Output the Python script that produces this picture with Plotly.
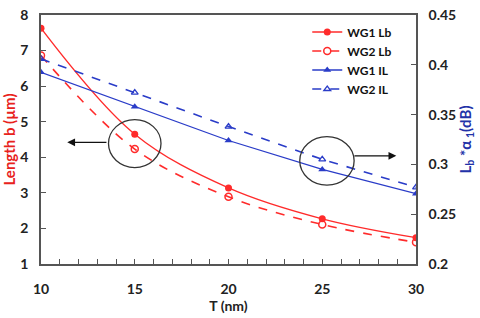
import plotly.graph_objects as go

T = [10, 15, 20, 25, 30]
wg1_lb = [7.63, 4.65, 3.14, 2.27, 1.74]
wg2_lb = [6.86, 4.23, 2.89, 2.11, 1.61]
wg1_il = [0.3925, 0.358, 0.324, 0.295, 0.2706]
wg2_il = [0.406, 0.372, 0.338, 0.305, 0.277]

left_ticks = [1, 2, 3, 4, 5, 6, 7, 8]
right_ticks = [0.2, 0.25, 0.3, 0.35, 0.4, 0.45]
right_labels = ["0.2", "0.25", "0.3", "0.35", "0.4", "0.45"]
x_ticks = [10, 15, 20, 25, 30]

RED = "#ff2b2b"
BLUE = "#2a3cc8"
FONT = "Lato"

fig = go.Figure()
fig.add_trace(go.Scatter(x=T, y=wg1_lb, name="WG1 Lb", mode="lines+markers",
                         line=dict(color=RED, width=1.3, shape="spline"),
                         marker=dict(symbol="circle", size=7, color=RED)))
fig.add_trace(go.Scatter(x=T, y=wg2_lb, name="WG2 Lb", mode="lines+markers",
                         line=dict(color=RED, width=1.6, dash="dash", shape="spline"),
                         marker=dict(symbol="circle-open", size=7, color=RED, line=dict(width=1.5))))
fig.add_trace(go.Scatter(x=T, y=wg1_il, name="WG1 IL", mode="lines+markers", yaxis="y2",
                         line=dict(color=BLUE, width=1.3),
                         marker=dict(symbol="triangle-up", size=7, color=BLUE)))
fig.add_trace(go.Scatter(x=T, y=wg2_il, name="WG2 IL", mode="lines+markers", yaxis="y2",
                         line=dict(color=BLUE, width=1.6, dash="dash"),
                         marker=dict(symbol="triangle-up-open", size=6, color=BLUE, line=dict(width=1.3))))

# decorations: circles and arrows (data coords on left axis)
circle_left = dict(x0=13.6, x1=16.4, y0=3.71, y1=5.06)
circle_right = dict(x0=23.8, x1=26.7, y0=3.22, y1=4.58)
for c in (circle_left, circle_right):
    fig.add_shape(type="circle", xref="x", yref="y", line=dict(color="#333333", width=1.3), **c)

fig.add_annotation(x=11.4, y=4.42, ax=13.57, ay=4.42, xref="x", yref="y", axref="x", ayref="y",
                   showarrow=True, arrowhead=2, arrowsize=1.2, arrowwidth=1.3, arrowcolor="#111111", text="")
fig.add_annotation(x=28.95, y=4.04, ax=26.64, ay=4.04, xref="x", yref="y", axref="x", ayref="y",
                   showarrow=True, arrowhead=2, arrowsize=1.2, arrowwidth=1.3, arrowcolor="#111111", text="")

axis_common = dict(showline=True, linecolor="#555555", linewidth=1.5, ticks="inside",
                   tickcolor="#555555", ticklen=5, tickwidth=1, showgrid=False, zeroline=False,
                   ticklabeloverflow="allow",
                   tickfont=dict(family=FONT, size=14, color="#222222", weight="bold"))

fig.update_layout(
    width=480, height=318,
    margin=dict(l=41, r=64, t=6, b=54),
    paper_bgcolor="white", plot_bgcolor="white",
    font=dict(family=FONT),
    xaxis=dict(range=[10, 30], tickvals=x_ticks, dtick=1, mirror=True,
               minor=dict(dtick=1, ticks="inside", ticklen=5, tickcolor="#555555"),
               title=dict(text="T (nm)", font=dict(family=FONT, size=14, color="#222222", weight="bold"), standoff=2),
               ticklabelstandoff=11,
               **axis_common),
    yaxis=dict(range=[1, 8], tickvals=left_ticks, mirror=False,
               title=dict(text="Length b (µm)", font=dict(family=FONT, size=15, color="#e8221c", weight="bold"), standoff=2),
               ticklabelstandoff=8,
               **axis_common),
    yaxis2=dict(range=[0.2, 0.45], tickvals=right_ticks, ticktext=right_labels, overlaying="y", side="right",
                title=dict(text="L<sub>b</sub> *α<sub> 1</sub>(dB)", font=dict(family=FONT, size=15, color="#2232a8", weight="bold"), standoff=2),
                ticklabelstandoff=8,
                **axis_common),
    legend=dict(x=0.71, y=0.99, xanchor="left", yanchor="top", bgcolor="rgba(0,0,0,0)",
                font=dict(family=FONT, size=12, color="#111111", weight="bold"), itemwidth=30),
    showlegend=True,
)

fig.write_html("out.html")
